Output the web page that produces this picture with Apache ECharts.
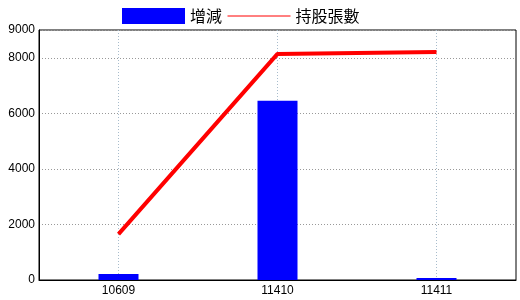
<!DOCTYPE html>
<html><head><meta charset="utf-8">
<script src="https://cdn.jsdelivr.net/npm/echarts@6/dist/echarts.min.js"></script>
<style>html,body{margin:0;padding:0;background:#fff}#c{width:520px;height:300px}</style>
</head><body><div id="c"></div>
<script>
const categories = ['10609', '11410', '11411'];
const changeValues = [220, 6450, 70];
const holdingValues = [1650, 8140, 8210];
const yTicks = [0, 2000, 4000, 6000, 8000, 9000];

const chart = echarts.init(document.getElementById('c'), null, {renderer: 'canvas'});
chart.setOption({
  animation: false,
  backgroundColor: '#fff',
  textStyle: {fontFamily: '"Noto Sans CJK TC", "Liberation Sans", sans-serif'},
  legend: {
    top: 8, left: 122, padding: 0,
    itemWidth: 63, itemHeight: 16, itemGap: 5,
    textStyle: {fontSize: 16, color: '#000'},
    data: [
      {name: '增減', icon: 'rect'},
      {name: '持股張數', itemStyle: {opacity: 0}, lineStyle: {width: 1}}
    ]
  },
  grid: {left: 39, right: 4, top: 30, bottom: 20, show: true, borderColor: '#000', borderWidth: 1, containLabel: false},
  xAxis: {
    type: 'category', data: categories, boundaryGap: true,
    axisLine: {lineStyle: {color: '#000'}},
    axisTick: {show: false},
    axisLabel: {color: '#000', fontSize: 12, margin: 5, fontFamily: '"Liberation Sans", sans-serif'},
    splitLine: {show: true, alignWithLabel: true, lineStyle: {color: '#a8bccc', type: [1, 2]}}
  },
  yAxis: {
    type: 'value', min: yTicks[0], max: yTicks[yTicks.length - 1], interval: 2000,
    axisLine: {show: true, lineStyle: {color: '#000'}},
    axisTick: {show: false},
    axisLabel: {color: '#000', fontSize: 12, margin: 4, fontFamily: '"Liberation Sans", sans-serif',
      formatter: v => String(v)},
    splitLine: {show: true, lineStyle: {color: '#999', type: [1, 2]}}
  },
  series: [
    {name: '增減', type: 'bar', data: changeValues, barWidth: 40, itemStyle: {color: '#0000ff'}},
    {name: '持股張數', type: 'line', data: holdingValues, symbol: 'none', color: '#ff0000',
     lineStyle: {color: '#ff0000', width: 4}}
  ]
});
</script></body></html>
